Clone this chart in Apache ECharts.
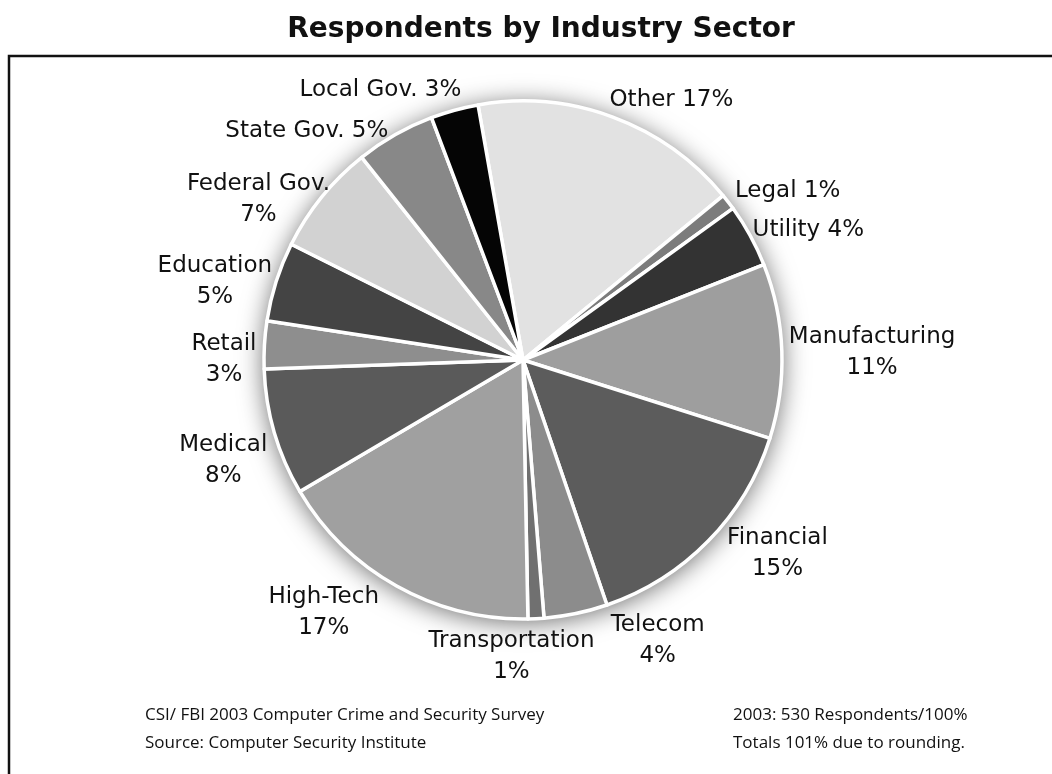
<!DOCTYPE html>
<html>
<head>
<meta charset="utf-8">
<script src="https://cdn.jsdelivr.net/npm/echarts@6/dist/echarts.min.js"></script>
<style>
  html, body { margin: 0; padding: 0; background: #fff; }
  #chart { width: 1052px; height: 774px; }
</style>
</head>
<body>
<div id="chart"></div>
<script>
// Survey respondents by industry sector (percent, clockwise from the top)
const sectors = ['Other', 'Legal', 'Utility', 'Manufacturing', 'Financial', 'Telecom',
  'Transportation', 'High-Tech', 'Medical', 'Retail', 'Education', 'Federal Gov.',
  'State Gov.', 'Local Gov.'];
const percents = [17, 1, 4, 11, 15, 4, 1, 17, 8, 3, 5, 7, 5, 3];
const shades = ['#e2e2e2', '#7c7c7c', '#333333', '#9e9e9e', '#5c5c5c', '#8c8c8c',
  '#707070', '#a0a0a0', '#5a5a5a', '#8e8e8e', '#444444', '#d2d2d2', '#888888', '#050505'];
// Labels whose percentage sits on its own line
const wrapped = ['Federal Gov.', 'Education', 'Retail', 'Medical', 'High-Tech',
  'Transportation', 'Telecom', 'Financial', 'Manufacturing'];

const footLeft = ['CSI/ FBI 2003 Computer Crime and Security Survey', 'Source: Computer Security Institute'];
const footRight = ['2003: 530 Respondents/100%', 'Totals 101% due to rounding.'];

// Layout settings
const pieCenter = [523, 360];
const pieRadius = 259;
const startAngle = 100;
const labelGap = 6;
// small hand adjustments so each label sits clear of its neighbours
const labelNudge = [[35, 3], [13, 2], [4, 5], [1, 3], [29, -13], [71, -9], [-29, 1],
  [-43, -6], [-3, 18], [-2, 17], [-1, 11], [-3, 26], [-45, 15], [-51, 1]];

const LABEL_FONT = '"DejaVu Sans", sans-serif';
const NOTE_FONT = '"Open Sans", sans-serif';

// mid angle of every slice, in degrees, matching the pie's own layout
const total = percents.reduce((a, b) => a + b, 0);
const midAngles = [];
let acc = 0;
percents.forEach(v => { midAngles.push(startAngle - (acc + v / 2) / total * 360); acc += v; });

const chart = echarts.init(document.getElementById('chart'), null, { renderer: 'canvas' });

chart.setOption({
  animation: false,
  title: {
    text: 'Respondents by Industry Sector',
    left: 536, top: 11, textAlign: 'center',
    textStyle: { fontFamily: LABEL_FONT, fontWeight: 'bold', fontSize: 28, color: '#111' }
  },
  graphic: [
    { type: 'rect', silent: true, z: -10,
      shape: { x: 9, y: 56, width: 1100, height: 800 },
      style: { fill: 'none', stroke: '#111', lineWidth: 2.5 } },
    { type: 'text', left: 145, top: 701, silent: true,
      style: { text: footLeft.join('\n'), font: '17px ' + NOTE_FONT, lineHeight: 28, fill: '#111' } },
    { type: 'text', left: 733, top: 701, silent: true,
      style: { text: footRight.join('\n'), font: '17px ' + NOTE_FONT, lineHeight: 28, fill: '#111' } }
  ],
  series: [
    {
      // soft halo underneath the pie
      type: 'pie', silent: true, z: 1,
      center: pieCenter, radius: pieRadius,
      label: { show: false }, labelLine: { show: false },
      itemStyle: { color: '#fff', shadowBlur: 26, shadowColor: 'rgba(0,0,0,0.6)', shadowOffsetY: 3 },
      data: [{ value: 1, name: '' }]
    },
    {
      type: 'pie', z: 2,
      center: pieCenter, radius: pieRadius,
      startAngle: startAngle, clockwise: true,
      avoidLabelOverlap: false,
      itemStyle: { borderColor: '#fff', borderWidth: 3.5 },
      label: {
        show: true, position: 'outside',
        fontFamily: LABEL_FONT, fontSize: 23, color: '#111', lineHeight: 31,
        formatter: p => p.name + (wrapped.includes(p.name) ? '\n' : ' ') + p.value + '%'
      },
      labelLine: { show: false, length: 6, length2: 0 },
      labelLayout: p => {
        const a = midAngles[p.dataIndex] * Math.PI / 180;
        const ux = Math.cos(a), uy = -Math.sin(a);
        const w = p.labelRect.width, h = p.labelRect.height;
        const n = labelNudge[p.dataIndex];
        return {
          x: pieCenter[0] + ux * (pieRadius + labelGap) + ux * w / 2 + n[0],
          y: pieCenter[1] + uy * (pieRadius + labelGap) + uy * h / 2 + n[1],
          align: 'center', verticalAlign: 'middle'
        };
      },
      data: sectors.map((s, i) => ({ name: s, value: percents[i], itemStyle: { color: shades[i] } }))
    }
  ]
});
</script>
</body>
</html>
